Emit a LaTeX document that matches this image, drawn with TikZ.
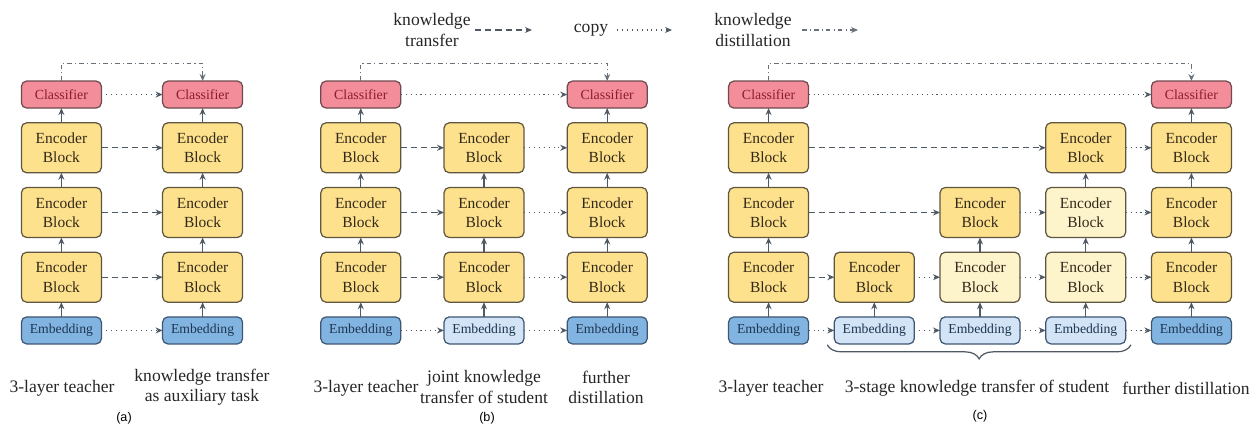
\documentclass[tikz,border=0pt]{standalone}
\usepackage{fontspec}
\setmainfont{Liberation Serif}
\setsansfont{Liberation Sans}
\usetikzlibrary{matrix,arrows.meta,decorations.pathreplacing}

\definecolor{clsFill}{HTML}{F38D9A}
\definecolor{clsDraw}{HTML}{6E4A4E}
\definecolor{clsText}{HTML}{8C1C2C}
\definecolor{encFill}{HTML}{FDE18C}
\definecolor{encFillLight}{HTML}{FEF4CC}
\definecolor{encDraw}{HTML}{5F5640}
\definecolor{encText}{HTML}{33291A}
\definecolor{embFill}{HTML}{82B4E2}
\definecolor{embFillLight}{HTML}{D2E4F5}
\definecolor{embDraw}{HTML}{3E5672}
\definecolor{embText}{HTML}{1E3550}
\definecolor{arrowGray}{HTML}{4F5964}

\begin{document}
\begin{tikzpicture}[
  x=0.02cm, y=-0.02cm,
  font=\rmfamily\fontsize{10}{11.5}\selectfont,
  every matrix/.style={ampersand replacement=\&,row sep=0.27cm,inner sep=0pt},
  box/.style={draw,rounded corners=3pt,line width=0.7pt,minimum width=1.6cm,outer sep=0pt,inner sep=1pt,align=center},
  cls/.style={box,fill=clsFill,draw=clsDraw,text=clsText,minimum height=0.54cm,font=\rmfamily\fontsize{7.9}{9}\selectfont},
  enc/.style={box,fill=encFill,draw=encDraw,text=encText,minimum height=1cm,font=\rmfamily\fontsize{8.8}{11}\selectfont},
  encPale/.style={enc,fill=encFillLight},
  emb/.style={box,fill=embFill,draw=embDraw,text=embText,minimum height=0.54cm,font=\rmfamily\fontsize{7.8}{9}\selectfont},
  embPale/.style={emb,fill=embFillLight},
  flow/.style={-{Stealth[length=4pt,width=3.4pt]},line width=0.6pt,draw=arrowGray},
  transfer/.style={flow,dash pattern=on 3.5pt off 2.3pt},
  copyLine/.style={flow,dash pattern=on 0.6pt off 2.2pt},
  distill/.style={flow,draw=arrowGray!85,dash pattern=on 2.6pt off 1.8pt on 0.6pt off 1.8pt},
  capText/.style={align=center,text=black!85},
  panelTag/.style={font=\sffamily\fontsize{7.2}{9}\selectfont},
  curly/.style={decorate,decoration={brace,mirror,amplitude=8pt},line width=0.7pt,draw=arrowGray}]

\useasboundingbox (0,0) rectangle (1254,429);

% Legend
\node[capText] (ktLegend) at (432,30) {knowledge\\transfer};
\node[capText] (copyLegend) at (591,30) {copy};
\node[capText] (kdLegend) at (753,30) {knowledge\\distillation};
\coordinate (ktStart) at (475,30);
\coordinate (ktEnd) at (532,30);
\coordinate (copyStart) at (617,30);
\coordinate (copyEnd) at (672,30);
\coordinate (kdStart) at (802,30);
\coordinate (kdEnd) at (858,30);
\draw [transfer] (ktStart) -- (ktEnd);
\draw [copyLine] (copyStart) -- (copyEnd);
\draw [distill] (kdStart) -- (kdEnd);

% Panel (a)
\matrix[column sep=1.2cm] (panelA) at (132,212.5) {
    \node[cls] (aTeacherCls) {Classifier};
      \& \node[cls] (aStudentCls) {Classifier}; \\
    \node[enc] (aTeacherEnc3) {Encoder\\Block};
      \& \node[enc] (aStudentEnc3) {Encoder\\Block}; \\
    \node[enc] (aTeacherEnc2) {Encoder\\Block};
      \& \node[enc] (aStudentEnc2) {Encoder\\Block}; \\
    \node[enc] (aTeacherEnc1) {Encoder\\Block};
      \& \node[enc] (aStudentEnc1) {Encoder\\Block}; \\
    \node[emb] (aTeacherEmb) {Embedding};
      \& \node[emb] (aStudentEmb) {Embedding}; \\
  };

\draw [flow] (aTeacherEmb) -- (aTeacherEnc1);
\draw [flow] (aTeacherEnc1) -- (aTeacherEnc2);
\draw [flow] (aTeacherEnc2) -- (aTeacherEnc3);
\draw [flow] (aTeacherEnc3) -- (aTeacherCls);
\draw [flow] (aStudentEmb) -- (aStudentEnc1);
\draw [flow] (aStudentEnc1) -- (aStudentEnc2);
\draw [flow] (aStudentEnc2) -- (aStudentEnc3);
\draw [flow] (aStudentEnc3) -- (aStudentCls);

\draw [copyLine] (aTeacherCls) -- (aStudentCls);
\draw [transfer] (aTeacherEnc3) -- (aStudentEnc3);
\draw [transfer] (aTeacherEnc2) -- (aStudentEnc2);
\draw [transfer] (aTeacherEnc1) -- (aStudentEnc1);
\draw [copyLine] (aTeacherEmb) -- (aStudentEmb);
\draw [distill] (aTeacherCls.north) -- ++(0,-18) -| (aStudentCls.north);

% Panel (b)
\matrix[column sep=0.84cm] (panelB) at (484,212.5) {
    \node[cls] (bTeacherCls) {Classifier};
      \&
      \& \node[cls] (bFurtherCls) {Classifier}; \\
    \node[enc] (bTeacherEnc3) {Encoder\\Block};
      \& \node[enc] (bJointEnc3) {Encoder\\Block};
      \& \node[enc] (bFurtherEnc3) {Encoder\\Block}; \\
    \node[enc] (bTeacherEnc2) {Encoder\\Block};
      \& \node[enc] (bJointEnc2) {Encoder\\Block};
      \& \node[enc] (bFurtherEnc2) {Encoder\\Block}; \\
    \node[enc] (bTeacherEnc1) {Encoder\\Block};
      \& \node[enc] (bJointEnc1) {Encoder\\Block};
      \& \node[enc] (bFurtherEnc1) {Encoder\\Block}; \\
    \node[emb] (bTeacherEmb) {Embedding};
      \& \node[embPale] (bJointEmb) {Embedding};
      \& \node[emb] (bFurtherEmb) {Embedding}; \\
  };

\draw [flow] (bTeacherEmb) -- (bTeacherEnc1);
\draw [flow] (bTeacherEnc1) -- (bTeacherEnc2);
\draw [flow] (bTeacherEnc2) -- (bTeacherEnc3);
\draw [flow] (bTeacherEnc3) -- (bTeacherCls);
\draw [flow] (bJointEmb) -- (bJointEnc1);
\draw [flow] (bJointEnc1) -- (bJointEnc2);
\draw [flow] (bJointEnc2) -- (bJointEnc3);
\draw [flow] (bFurtherEmb) -- (bFurtherEnc1);
\draw [flow] (bFurtherEnc1) -- (bFurtherEnc2);
\draw [flow] (bFurtherEnc2) -- (bFurtherEnc3);
\draw [flow] (bFurtherEnc3) -- (bFurtherCls);

\draw [copyLine] (bTeacherCls) -- (bFurtherCls);
\draw [transfer] (bTeacherEnc3) -- (bJointEnc3);
\draw [transfer] (bTeacherEnc2) -- (bJointEnc2);
\draw [transfer] (bTeacherEnc1) -- (bJointEnc1);
\draw [copyLine] (bTeacherEmb) -- (bJointEmb);
\draw [copyLine] (bJointEnc3) -- (bFurtherEnc3);
\draw [copyLine] (bJointEnc2) -- (bFurtherEnc2);
\draw [copyLine] (bJointEnc1) -- (bFurtherEnc1);
\draw [copyLine] (bJointEmb) -- (bFurtherEmb);
\draw [distill] (bTeacherCls.north) -- ++(0,-18) -| (bFurtherCls.north);

% Panel (c)
\matrix[column sep=0.49cm] (panelC) at (980,212.5) {
    \node[cls] (cTeacherCls) {Classifier};
      \&
      \&
      \&
      \& \node[cls] (cFurtherCls) {Classifier}; \\
    \node[enc] (cTeacherEnc3) {Encoder\\Block};
      \&
      \&
      \& \node[enc] (cStageThreeEnc3) {Encoder\\Block};
      \& \node[enc] (cFurtherEnc3) {Encoder\\Block}; \\
    \node[enc] (cTeacherEnc2) {Encoder\\Block};
      \&
      \& \node[enc] (cStageTwoEnc2) {Encoder\\Block};
      \& \node[encPale] (cStageThreeEnc2) {Encoder\\Block};
      \& \node[enc] (cFurtherEnc2) {Encoder\\Block}; \\
    \node[enc] (cTeacherEnc1) {Encoder\\Block};
      \& \node[enc] (cStageOneEnc1) {Encoder\\Block};
      \& \node[encPale] (cStageTwoEnc1) {Encoder\\Block};
      \& \node[encPale] (cStageThreeEnc1) {Encoder\\Block};
      \& \node[enc] (cFurtherEnc1) {Encoder\\Block}; \\
    \node[emb] (cTeacherEmb) {Embedding};
      \& \node[embPale] (cStageOneEmb) {Embedding};
      \& \node[embPale] (cStageTwoEmb) {Embedding};
      \& \node[embPale] (cStageThreeEmb) {Embedding};
      \& \node[emb] (cFurtherEmb) {Embedding}; \\
  };

\draw [flow] (cTeacherEmb) -- (cTeacherEnc1);
\draw [flow] (cTeacherEnc1) -- (cTeacherEnc2);
\draw [flow] (cTeacherEnc2) -- (cTeacherEnc3);
\draw [flow] (cTeacherEnc3) -- (cTeacherCls);
\draw [flow] (cStageOneEmb) -- (cStageOneEnc1);
\draw [flow] (cStageTwoEmb) -- (cStageTwoEnc1);
\draw [flow] (cStageTwoEnc1) -- (cStageTwoEnc2);
\draw [flow] (cStageThreeEmb) -- (cStageThreeEnc1);
\draw [flow] (cStageThreeEnc1) -- (cStageThreeEnc2);
\draw [flow] (cStageThreeEnc2) -- (cStageThreeEnc3);
\draw [flow] (cFurtherEmb) -- (cFurtherEnc1);
\draw [flow] (cFurtherEnc1) -- (cFurtherEnc2);
\draw [flow] (cFurtherEnc2) -- (cFurtherEnc3);
\draw [flow] (cFurtherEnc3) -- (cFurtherCls);

\draw [copyLine] (cTeacherCls) -- (cFurtherCls);
\draw [transfer] (cTeacherEnc3) -- (cStageThreeEnc3);
\draw [transfer] (cTeacherEnc2) -- (cStageTwoEnc2);
\draw [transfer] (cTeacherEnc1) -- (cStageOneEnc1);
\draw [copyLine] (cStageThreeEnc3) -- (cFurtherEnc3);
\draw [copyLine] (cStageTwoEnc2) -- (cStageThreeEnc2);
\draw [copyLine] (cStageThreeEnc2) -- (cFurtherEnc2);
\draw [copyLine] (cStageOneEnc1) -- (cStageTwoEnc1);
\draw [copyLine] (cStageTwoEnc1) -- (cStageThreeEnc1);
\draw [copyLine] (cStageThreeEnc1) -- (cFurtherEnc1);
\draw [copyLine] (cTeacherEmb) -- (cStageOneEmb);
\draw [copyLine] (cStageOneEmb) -- (cStageTwoEmb);
\draw [copyLine] (cStageTwoEmb) -- (cStageThreeEmb);
\draw [copyLine] (cStageThreeEmb) -- (cFurtherEmb);
\draw [distill] (cTeacherCls.north) -- ++(0,-18) -| (cFurtherCls.north);
\draw [curly] ([xshift=-4pt,yshift=-0.5pt]cStageOneEmb.south west) -- ([xshift=3pt,yshift=-0.5pt]cStageThreeEmb.south east);

% Captions under the panels
\node[capText] (aTeacherText) at (62,388) {3-layer teacher};
\node[capText] (aStudentText) at (202,387) {knowledge transfer\\as auxiliary task};
\node[panelTag] (aTag) at (124,418) {(a)};
\node[capText] (bTeacherText) at (366,388) {3-layer teacher};
\node[capText] (bJointText) at (484,387) {joint knowledge\\transfer of student};
\node[capText] (bFurtherText) at (606,387) {further\\distillation};
\node[panelTag] (bTag) at (487,418) {(b)};
\node[capText] (cTeacherText) at (771,388) {3-layer teacher};
\node[capText] (cStageText) at (977,388) {3-stage knowledge transfer of student};
\node[capText] (cFurtherText) at (1186,388) {further distillation};
\node[panelTag] (cTag) at (980,416) {(c)};
\end{tikzpicture}
\end{document}
